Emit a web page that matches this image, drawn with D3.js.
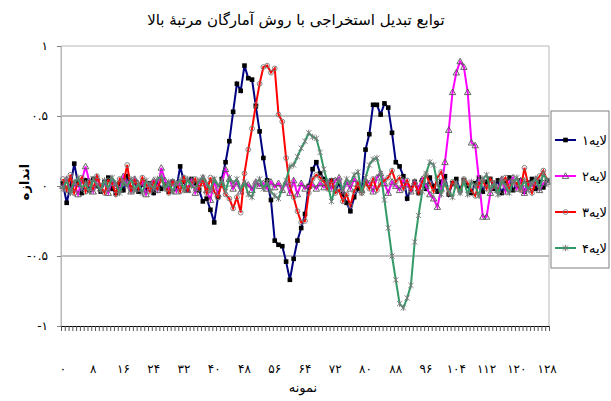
<!DOCTYPE html>
<html>
<head>
<meta charset="utf-8">
<script src="https://cdn.jsdelivr.net/npm/d3@7"></script>
<style>
  body { margin: 0; background: #fff; }
  text { font-family: "DejaVu Sans", sans-serif; }
</style>
</head>
<body>
<svg width="611" height="401"></svg>
<script>
var chartTitle = "توابع تبدیل استخراجی با روش آمارگان مرتبهٔ بالا";
var xTitle = "نمونه", yTitle = "اندازه";
var seriesNames = ["لایه۱", "لایه۲", "لایه۳", "لایه۴"];
var samples = d3.range(129);
var xTicks = [0, 8, 16, 24, 32, 40, 48, 56, 64, 72, 80, 88, 96, 104, 112, 120, 128];
var yTicks = [-1, -0.5, 0, 0.5, 1];

var layer1 = [0.02,-0.12,0.0,0.16,0.02,-0.05,0.04,-0.03,0.05,0.0,-0.04,0.03,0.06,-0.02,-0.05,0.02,
  -0.03,0.07,-0.02,0.03,-0.04,0.01,-0.03,0.02,-0.05,0.03,-0.02,0.01,-0.04,0.03,-0.02,0.14,
  0.03,-0.03,0.05,0.02,-0.03,-0.11,-0.09,-0.17,-0.26,-0.08,0.05,0.17,0.32,0.53,0.73,0.68,
  0.86,0.77,0.76,0.57,0.39,0.2,0.04,-0.1,-0.39,-0.42,-0.43,-0.54,-0.67,-0.52,-0.39,-0.3,
  -0.2,0.0,0.12,0.17,0.09,0.05,0.02,0.04,-0.03,0.02,-0.06,-0.12,-0.18,-0.08,-0.02,-0.03,
  0.26,0.37,0.58,0.58,0.51,0.59,0.56,0.38,0.17,0.14,0.07,-0.09,-0.02,0.03,-0.05,0.04,
  -0.02,0.06,0.0,-0.04,0.03,0.07,-0.06,0.02,0.05,-0.03,0.04,0.0,-0.05,0.02,0.06,-0.04,
  0.03,0.05,-0.02,0.04,-0.05,0.02,0.06,-0.03,0.01,0.04,-0.04,0.02,0.05,-0.02,0.03,-0.01,0.04];

var layer2 = [0.0,0.05,-0.03,0.02,-0.06,0.04,0.14,0.03,-0.04,0.06,-0.02,0.03,-0.05,0.04,0.0,-0.03,
  0.07,0.02,-0.04,0.05,-0.02,0.03,-0.06,0.01,0.04,-0.03,0.13,0.04,-0.02,0.03,-0.04,0.02,
  0.05,-0.03,0.04,-0.05,0.02,0.06,-0.03,-0.1,0.04,-0.06,0.02,0.12,0.05,-0.02,0.03,-0.04,
  0.02,0.01,-0.03,0.03,0.0,0.02,-0.02,0.03,-0.01,0.02,-0.03,0.03,-0.05,0.04,-0.06,0.02,
  -0.02,0.0,0.01,-0.02,0.02,-0.01,0.03,-0.02,0.04,0.06,-0.04,0.03,-0.02,0.05,0.01,-0.03,
  0.04,0.02,-0.04,0.06,0.09,0.02,-0.05,0.03,0.0,-0.03,0.04,0.01,-0.04,0.03,-0.02,0.05,
  0.0,-0.06,-0.09,-0.15,-0.02,0.17,0.4,0.67,0.81,0.89,0.85,0.67,0.31,0.29,0.04,-0.22,
  -0.22,-0.05,0.02,-0.03,0.05,-0.04,0.03,0.06,-0.02,0.04,-0.05,0.02,0.0,0.05,-0.03,0.02,0.03];

var layer3 = [0.05,-0.03,0.08,-0.05,0.02,0.06,-0.04,0.03,-0.02,0.07,0.0,-0.05,0.04,0.02,-0.06,0.05,
  0.02,0.15,-0.03,0.04,-0.02,0.06,0.01,-0.04,0.03,-0.02,0.05,0.0,-0.05,0.03,0.02,-0.04,
  0.06,-0.03,0.02,0.05,-0.02,0.04,-0.05,0.06,-0.04,-0.08,0.02,-0.06,-0.09,-0.16,-0.08,-0.19,
  0.09,0.26,0.41,0.58,0.73,0.85,0.86,0.81,0.84,0.51,0.46,0.2,0.0,-0.08,-0.18,-0.26,
  -0.25,-0.05,0.05,0.08,0.06,0.03,-0.02,0.04,-0.05,-0.03,-0.11,-0.06,-0.14,-0.04,0.02,-0.05,
  0.03,-0.02,0.05,-0.03,0.02,0.04,0.06,0.11,0.03,0.06,-0.02,0.04,-0.03,0.02,-0.05,0.03,
  0.08,0.02,-0.04,0.06,0.1,0.02,-0.05,0.03,0.0,-0.04,0.05,0.02,-0.03,-0.07,0.02,0.04,
  -0.02,0.05,0.0,-0.04,0.03,0.06,-0.02,0.03,0.02,-0.03,0.13,0.01,-0.05,0.03,0.07,0.11,0.04];

var layer4 = [-0.02,0.04,-0.05,0.03,0.06,-0.02,0.02,-0.04,0.05,0.01,-0.03,0.04,-0.02,0.06,0.02,-0.05,
  0.03,0.0,0.05,-0.03,0.02,-0.05,0.04,0.01,-0.02,0.05,0.07,-0.02,0.03,-0.04,0.02,0.04,
  -0.03,0.05,0.0,-0.02,0.04,0.06,0.02,-0.03,0.05,0.0,0.04,-0.04,0.06,0.02,0.05,-0.03,
  0.03,-0.06,-0.08,0.02,0.05,-0.02,0.03,-0.04,-0.07,-0.09,-0.02,0.04,0.14,0.15,0.21,0.27,
  0.32,0.38,0.35,0.34,0.24,0.12,0.02,-0.11,-0.01,0.04,-0.03,0.05,0.02,0.08,0.1,-0.05,
  0.06,0.15,0.19,0.2,0.09,-0.1,-0.3,-0.5,-0.67,-0.84,-0.87,-0.8,-0.71,-0.4,-0.21,-0.04,
  0.09,0.17,0.15,0.02,-0.06,0.03,-0.04,-0.08,0.02,-0.05,0.04,-0.06,0.03,0.0,-0.07,0.05,
  0.08,-0.03,0.02,-0.06,0.04,0.0,-0.05,0.03,0.06,-0.02,0.04,-0.03,0.02,0.05,-0.02,0.09,0.04];

var seriesValues = [layer1, layer2, layer3, layer4];
var colors = ["#000080", "#ff00ff", "#ff0000", "#339966"];
var markers = ["square", "triangle", "circle", "star"];

function fa(v) {
  return String(v).replace(/\d/g, function(d) { return "۰۱۲۳۴۵۶۷۸۹"[d]; });
}

var svg = d3.select("svg"),
    plotLeft = 61, plotRight = 549, plotTop = 46, plotBottom = 326;

svg.append("rect").attr("width", 611).attr("height", 401).attr("fill", "#fff");

var x = d3.scaleBand().domain(samples).range([plotLeft, plotRight]),
    xEdge = d3.scaleLinear().domain([0, samples.length]).range([plotLeft, plotRight]),
    y = d3.scaleLinear().domain([-1, 1]).range([plotBottom, plotTop]);

// plot area border
svg.append("path")
    .attr("d", "M" + plotLeft + "," + plotBottom + "V" + plotTop + "H" + plotRight + "V" + plotBottom)
    .attr("fill", "none")
    .attr("stroke", "#b8b8b8");

// gridlines
svg.append("g").selectAll("line")
  .data([-0.5, 0, 0.5])
  .enter().append("line")
    .attr("x1", plotLeft).attr("x2", plotRight)
    .attr("y1", function(d) { return y(d); })
    .attr("y2", function(d) { return y(d); })
    .attr("stroke", "#808080");

// y axis
var yAxis = svg.append("g")
    .attr("transform", "translate(" + plotLeft + ",0)")
    .call(d3.axisLeft(y).tickValues(yTicks).tickSize(4).tickPadding(9).tickFormat(fa));
yAxis.select(".domain").attr("stroke", "#b8b8b8");
yAxis.selectAll(".tick line").attr("stroke", "#808080");
yAxis.selectAll("text").style("font-size", "12px").attr("fill", "#000");

// x axis, one tick per sample
var xAxis = svg.append("g")
    .attr("transform", "translate(0," + plotBottom + ")")
    .call(d3.axisBottom(xEdge).tickValues(d3.range(samples.length + 1)).tickSize(5).tickFormat(""));
xAxis.selectAll("line").attr("stroke", "#555");
xAxis.select(".domain").attr("stroke", "#000");

var xLabels = svg.append("g")
    .attr("transform", "translate(0," + plotBottom + ")")
    .call(d3.axisBottom(x).tickValues(xTicks).tickSize(0).tickPadding(38).tickFormat(fa));
xLabels.select(".domain").remove();
xLabels.selectAll("text").style("font-size", "12px").attr("fill", "#000");

// series
var line = d3.line()
    .x(function(d, i) { return x(i) + x.bandwidth() / 2; })
    .y(function(d) { return y(d); });

function drawMarker(g, type) {
  if (type === "square") {
    g.append("rect").attr("x", -2.3).attr("y", -2.3).attr("width", 4.6).attr("height", 4.6).attr("fill", "#000");
  } else if (type === "triangle") {
    g.append("path").attr("d", "M0,-3.2L3.2,2.4L-3.2,2.4Z").attr("fill", "none").attr("stroke", "#555").attr("stroke-width", 0.9);
  } else if (type === "circle") {
    g.append("circle").attr("r", 2.4).attr("fill", "none").attr("stroke", "#777").attr("stroke-width", 0.9);
  } else {
    g.append("path").attr("d", "M-2.6,-2.6L2.6,2.6M-2.6,2.6L2.6,-2.6M0,-3.2V3.2").attr("stroke", "#777").attr("stroke-width", 0.9);
  }
}

seriesValues.forEach(function(vals, s) {
  var g = svg.append("g").attr("class", "series");
  g.append("path")
      .attr("d", line(vals))
      .attr("fill", "none")
      .attr("stroke", colors[s])
      .attr("stroke-width", 2);
  g.selectAll(".m")
    .data(vals)
    .enter().append("g")
      .attr("class", "m")
      .attr("transform", function(d, i) { return "translate(" + (x(i) + x.bandwidth() / 2) + "," + y(d) + ")"; })
      .each(function() { drawMarker(d3.select(this), markers[s]); });
});

// title and axis titles
svg.append("text")
    .attr("x", 296).attr("y", 25)
    .attr("text-anchor", "middle")
    .style("font-size", "15px")
    .text(chartTitle);

svg.append("text")
    .attr("x", 303).attr("y", 392)
    .attr("text-anchor", "middle")
    .style("font-size", "13px")
    .text(xTitle);

svg.append("text")
    .attr("transform", "translate(29,182) rotate(-90)")
    .attr("text-anchor", "middle")
    .style("font-size", "13px")
    .style("font-weight", "bold")
    .text(yTitle);

// legend
var legend = svg.append("g").attr("transform", "translate(551,111)");
legend.append("rect")
    .attr("width", 58).attr("height", 157)
    .attr("fill", "#fff").attr("stroke", "#808080");
seriesNames.forEach(function(name, s) {
  var ly = 29 + s * 36;
  var item = legend.append("g").attr("transform", "translate(0," + ly + ")");
  item.append("line").attr("x1", 4).attr("x2", 25).attr("stroke", colors[s]).attr("stroke-width", 2);
  drawMarker(item.append("g").attr("transform", "translate(14.5,0)"), markers[s]);
  item.append("text")
      .attr("x", 56).attr("dy", "0.35em")
      .attr("text-anchor", "end")
      .style("font-size", "13px")
      .text(name);
});
</script>
</body>
</html>
